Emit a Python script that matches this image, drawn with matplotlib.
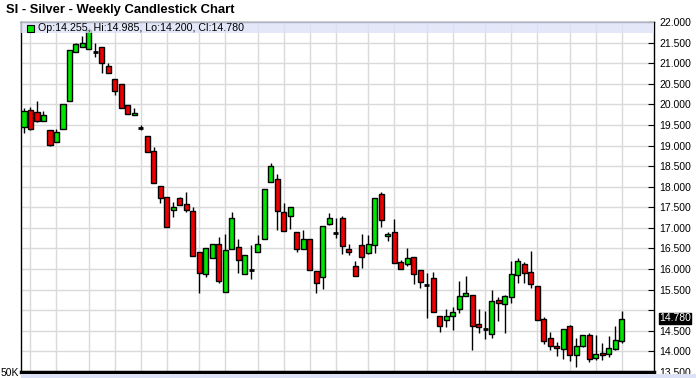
import matplotlib
matplotlib.use("Agg")
import matplotlib.pyplot as plt
from matplotlib.patches import Rectangle
from matplotlib.transforms import blended_transform_factory

plt.rcParams['font.family'] = ['Liberation Sans', 'DejaVu Sans']

# weekly OHLC, oldest first
opens = [19.44, 19.86, 19.82, 19.60, 19.37, 19.08, 19.40, 20.07, 21.28, 21.39,
         21.35, 21.26, 21.39, 20.94, 20.62, 20.49, 19.99, 19.74, 19.43, 19.23,
         18.86, 18.01, 17.745, 17.44, 17.72, 17.575, 17.41, 16.41, 15.875, 16.26,
         16.60, 15.44, 16.48, 16.53, 15.875, 15.97, 16.41, 16.73, 18.11, 18.19,
         17.38, 17.28, 16.90, 16.48, 16.73, 15.95, 15.80, 17.09, 16.87, 17.24,
         16.48, 16.07, 16.58, 16.39, 16.58, 17.82, 16.80, 16.90, 16.17, 16.12,
         16.29, 15.97, 15.62, 15.78, 14.87, 14.77, 14.86, 15.03, 15.34, 15.37,
         14.66, 14.55, 14.42, 15.25, 15.16, 15.32, 15.86, 16.13, 15.925, 15.60,
         14.78, 14.32, 14.14, 14.06, 14.62, 13.91, 14.12, 14.39, 13.83, 13.97,
         13.93, 14.07, 14.255]
highs = [19.90, 19.93, 20.07, 19.85, 19.37, 19.40, 20.00, 21.31, 21.50, 21.66,
         21.86, 21.50, 21.39, 21.00, 20.62, 20.49, 19.99, 19.91, 19.50, 19.23,
         18.97, 18.01, 17.745, 17.62, 17.74, 17.86, 17.50, 16.41, 16.51, 16.60,
         16.79, 16.85, 17.39, 16.74, 16.34, 16.59, 16.83, 17.94, 18.57, 18.30,
         17.61, 17.50, 16.90, 16.95, 16.73, 15.95, 17.04, 17.36, 17.24, 17.29,
         16.61, 16.20, 16.85, 16.83, 17.72, 17.87, 16.91, 17.21, 16.22, 16.51,
         16.29, 15.97, 15.90, 15.925, 14.87, 15.03, 15.09, 15.71, 15.83, 15.37,
         15.04, 14.99, 15.50, 15.32, 15.37, 16.20, 16.28, 16.16, 16.44, 15.60,
         14.83, 14.46, 14.22, 14.54, 14.65, 14.32, 14.41, 14.44, 14.40, 14.20,
         14.38, 14.62, 14.985]
lows = [19.31, 19.38, 19.57, 19.60, 19.00, 19.08, 19.40, 20.07, 21.28, 21.39,
        21.35, 21.16, 20.77, 20.75, 20.22, 19.91, 19.76, 19.74, 19.38, 18.84,
        18.08, 17.61, 17.02, 17.26, 17.55, 17.39, 16.31, 15.43, 15.80, 16.26,
        15.67, 15.44, 16.48, 15.91, 15.875, 15.75, 16.41, 16.73, 18.11, 16.95,
        16.92, 16.97, 16.42, 16.48, 15.97, 15.43, 15.52, 17.06, 16.75, 16.36,
        16.34, 15.83, 16.02, 16.37, 16.39, 17.03, 16.69, 16.14, 16.00, 16.08,
        15.63, 15.54, 14.81, 14.95, 14.46, 14.60, 14.51, 14.93, 15.34, 14.04,
        14.44, 14.30, 14.32, 14.75, 14.44, 15.17, 15.67, 15.67, 15.54, 14.77,
        14.19, 14.04, 13.90, 13.82, 13.755, 13.63, 14.11, 13.74, 13.80, 13.80,
        13.86, 14.04, 14.200]
closes = [19.85, 19.40, 19.59, 19.74, 19.01, 19.32, 20.00, 21.31, 21.46, 21.49,
          21.81, 21.26, 21.00, 20.75, 20.32, 19.91, 19.76, 19.78, 19.43, 18.84,
          18.08, 17.72, 17.02, 17.50, 17.55, 17.43, 16.31, 15.90, 16.51, 16.60,
          15.70, 16.47, 17.24, 16.21, 16.34, 15.97, 16.61, 17.94, 18.50, 17.41,
          16.92, 17.50, 16.48, 16.73, 15.97, 15.66, 17.04, 17.24, 16.87, 16.56,
          16.42, 15.83, 16.29, 16.60, 17.72, 17.19, 16.85, 16.14, 16.00, 16.26,
          15.875, 15.68, 15.62, 14.95, 14.62, 14.86, 14.95, 15.34, 15.41, 14.62,
          14.60, 14.55, 15.22, 15.17, 15.35, 15.875, 16.20, 15.90, 15.63, 14.77,
          14.26, 14.14, 14.08, 14.54, 13.91, 14.12, 14.39, 13.81, 13.93, 13.91,
          14.08, 14.28, 14.780]

# first week of each month (candle index) -> vertical grid
month_starts = [1, 5, 10, 14, 18, 22, 27, 31, 36, 40, 44, 48, 53, 57, 62, 66,
                71, 75, 79, 84, 88, 92]
price_ticks = [13.5 + 0.5 * k for k in range(18)]

title = "SI - Silver - Weekly Candlestick Chart"
info = "Op:14.255, Hi:14.985, Lo:14.200, Cl:14.780"

W, H = 696, 378
fig = plt.figure(figsize=(W / 100, H / 100), dpi=100)
ax = fig.add_axes([21 / W, 6 / H, 633 / W, 350 / H])

green = '#00E600'
red = '#EE0000'
bw = 0.78

for i in range(len(opens)):
    o, h, l, c = opens[i], highs[i], lows[i], closes[i]
    ax.vlines(i, l, h, color='black', lw=1, zorder=2)
    if abs(c - o) < 0.005:
        ax.hlines(o, i - bw / 2, i + bw / 2, color='black', lw=2, zorder=3)
    else:
        col = green if c > o else red
        ax.bar(i, abs(c - o), bottom=min(o, c), width=bw, color=col,
               edgecolor='black', linewidth=1, zorder=3)

ax.set_xlim(-0.46, 96.97)
ax.set_ylim(13.5, 22.0)

for m in month_starts:
    ax.axvline(m, color='#DADADA', lw=1, zorder=0)
for p in price_ticks:
    ax.axhline(p, color='#DADADA', lw=1, zorder=0)

ax.set_xticks([])
ax.yaxis.tick_right()
ax.set_yticks(price_ticks)
# the label next to the last-price marker is hidden, as in the source chart
last = closes[-1]
ax.set_yticklabels(['' if abs(p - last) < 0.25 else '%.3f' % p
                    for p in price_ticks])
ax.tick_params(axis='y', direction='in', length=4, pad=4, labelsize=7.5,
               colors='black')
for s in ['left', 'top', 'right']:
    ax.spines[s].set_linewidth(1)
ax.spines['bottom'].set_linewidth(2.5)

# info band on top of the plot
ax.axhspan(22.0 - 11 / 41.2, 22.0, color='#DDE1F7', alpha=0.8, lw=0, zorder=4)
fig.patches.append(Rectangle((26.5 / W, 1 - 31.7 / H), 7 / W, 7 / H,
                             transform=fig.transFigure, facecolor=green,
                             edgecolor='black', lw=0.8))
fig.text(38.5 / W, 1 - 27.8 / H, info, fontsize=7.7, va='center', ha='left')

# last price marker
tr = blended_transform_factory(ax.transAxes, ax.transData)
ax.text(1 + 5 / 633, last + 0.02, '%.3f' % last, transform=tr,
        color='white', fontsize=7.5, va='center', ha='left',
        bbox=dict(boxstyle='square,pad=0.03', fc='black', ec='black'))

fig.text(6 / W, 1 - 10.5 / H, title, fontsize=9.4, fontweight='bold',
         va='center', ha='left')

# top of the volume panel peeking in below
fig.patches.append(Rectangle((21 / W, 0), 675 / W, 4.5 / H,
                             transform=fig.transFigure, facecolor='#DDE1F7',
                             edgecolor='none'))
fig.text(19 / W, 1 - 373.5 / H, '50K', fontsize=7.5, va='center', ha='right')

fig.savefig('out.png', dpi=100)
